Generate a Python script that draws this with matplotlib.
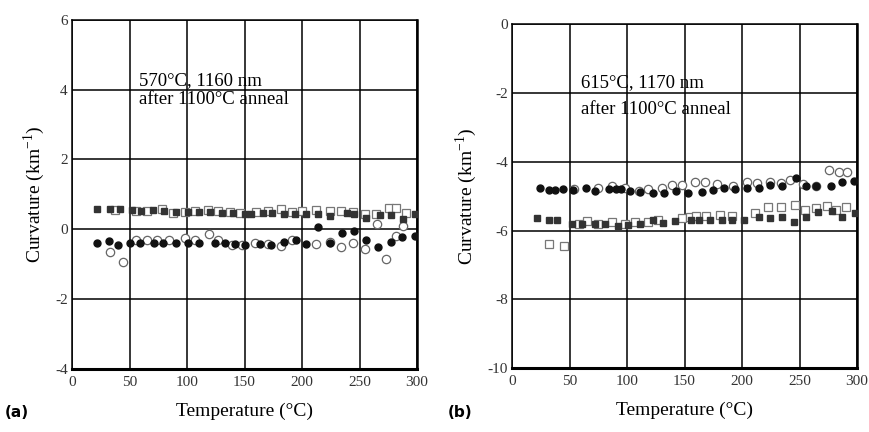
import matplotlib
matplotlib.use("Agg")
import matplotlib.pyplot as plt

plt.rcParams['font.family'] = ['Liberation Serif', 'DejaVu Serif']
plt.rcParams['axes.unicode_minus'] = False

# panel (a): 570°C, 1160 nm
a_fsq_x = [22, 33, 42, 52, 60, 70, 80, 90, 101, 110, 120, 130, 140, 150, 156, 166, 174, 184, 194, 203, 214, 224, 239, 245, 256, 268, 277, 288, 298]
a_fsq_y = [0.59, 0.58, 0.57, 0.54, 0.53, 0.54, 0.52, 0.49, 0.5, 0.5, 0.49, 0.48, 0.46, 0.43, 0.45, 0.46, 0.48, 0.44, 0.45, 0.45, 0.44, 0.38, 0.47, 0.45, 0.33, 0.40, 0.40, 0.30, 0.43]
a_osq_x = [37, 56, 65, 78, 88, 98, 107, 118, 127, 137, 146, 160, 170, 182, 191, 200, 212, 224, 234, 244, 255, 264, 276, 282, 290]
a_osq_y = [0.55, 0.53, 0.52, 0.57, 0.48, 0.5, 0.52, 0.55, 0.52, 0.5, 0.47, 0.5, 0.52, 0.58, 0.5, 0.52, 0.55, 0.53, 0.52, 0.5, 0.45, 0.45, 0.62, 0.62, 0.47]
a_fci_x = [22, 32, 40, 50, 59, 71, 79, 90, 101, 110, 124, 133, 142, 150, 163, 173, 184, 195, 203, 214, 224, 235, 245, 256, 266, 277, 287, 298]
a_fci_y = [-0.38, -0.33, -0.45, -0.4, -0.4, -0.4, -0.4, -0.4, -0.4, -0.4, -0.4, -0.4, -0.42, -0.45, -0.42, -0.45, -0.35, -0.32, -0.42, 0.07, -0.4, -0.12, -0.04, -0.3, -0.5, -0.35, -0.22, -0.18]
a_oci_x = [33, 44, 56, 65, 74, 84, 98, 107, 119, 127, 139, 148, 159, 170, 182, 191, 212, 224, 234, 244, 255, 265, 273, 282, 288]
a_oci_y = [-0.65, -0.95, -0.3, -0.3, -0.3, -0.32, -0.25, -0.3, -0.14, -0.3, -0.45, -0.45, -0.38, -0.42, -0.48, -0.3, -0.42, -0.35, -0.5, -0.4, -0.55, 0.15, -0.85, -0.2, 0.1]

# panel (b): 615°C, 1170 nm
b_fci_x = [24, 32, 37, 44, 53, 64, 72, 84, 90, 95, 103, 111, 123, 132, 143, 153, 165, 175, 184, 194, 204, 215, 224, 235, 247, 256, 264, 277, 287, 297]
b_fci_y = [-4.75, -4.82, -4.82, -4.8, -4.82, -4.75, -4.85, -4.8, -4.78, -4.8, -4.85, -4.87, -4.9, -4.92, -4.85, -4.92, -4.87, -4.82, -4.75, -4.8, -4.75, -4.75, -4.68, -4.7, -4.47, -4.72, -4.7, -4.72, -4.6, -4.55]
b_oci_x = [54, 75, 87, 98, 110, 118, 130, 139, 148, 159, 168, 178, 192, 204, 213, 224, 234, 242, 253, 264, 276, 284, 291]
b_oci_y = [-4.8, -4.75, -4.7, -4.75, -4.85, -4.8, -4.75, -4.68, -4.68, -4.6, -4.58, -4.65, -4.7, -4.6, -4.62, -4.6, -4.62, -4.52, -4.65, -4.7, -4.24, -4.29, -4.29]
b_fsq_x = [22, 32, 39, 52, 61, 72, 81, 92, 101, 111, 123, 131, 142, 156, 163, 172, 183, 191, 202, 215, 224, 235, 245, 256, 266, 278, 287, 298]
b_fsq_y = [-5.65, -5.7, -5.7, -5.8, -5.82, -5.82, -5.8, -5.88, -5.85, -5.8, -5.7, -5.78, -5.72, -5.7, -5.7, -5.7, -5.7, -5.7, -5.7, -5.6, -5.65, -5.6, -5.75, -5.6, -5.47, -5.44, -5.6, -5.5]
b_osq_x = [32, 45, 58, 65, 75, 87, 98, 107, 118, 127, 148, 155, 160, 169, 181, 191, 211, 223, 234, 246, 255, 264, 274, 282, 290]
b_osq_y = [-6.4, -6.45, -5.82, -5.72, -5.82, -5.75, -5.8, -5.75, -5.75, -5.7, -5.65, -5.6, -5.57, -5.57, -5.55, -5.57, -5.5, -5.33, -5.33, -5.25, -5.4, -5.35, -5.28, -5.4, -5.33]

fig = plt.figure(figsize=(8.7, 4.32), dpi=100)
ax1 = fig.add_axes([0.0828, 0.146, 0.3966, 0.808])
ax2 = fig.add_axes([0.5885, 0.148, 0.3966, 0.796])


def draw(ax, fsq, osq, fci, oci, ylim, yticks, lines, tpos):
    ax.plot(*osq, 's', ms=5.2, mfc='white', mec='#777777', mew=0.9, ls='none', zorder=3)
    ax.plot(*oci, 'o', ms=6, mfc='white', mec='#666666', mew=0.9, ls='none', zorder=3)
    ax.plot(*fsq, 's', ms=4.2, color='#333333', ls='none', zorder=4)
    ax.plot(*fci, 'o', ms=5, color='#111111', ls='none', zorder=4)
    ax.set_xlim(0, 300)
    ax.set_ylim(*ylim)
    ax.set_xticks([0, 50, 100, 150, 200, 250, 300])
    ax.set_yticks(yticks)
    ax.grid(True, color='black', linewidth=1.1)
    ax.set_axisbelow(True)
    ax.tick_params(length=0, labelsize=11, labelcolor='#333333')
    ax.tick_params(axis='y', pad=3)
    ax.tick_params(axis='x', pad=5)
    for s in ax.spines.values():
        s.set_linewidth(1.1)
    ax.spines['bottom'].set_linewidth(2.2)
    ax.spines['right'].set_linewidth(1.8)
    ax.set_ylabel('Curvature (km$^{\\mathregular{-1}}$)', fontsize=14, labelpad=6)
    ax.set_xlabel('Temperature (°C)', fontsize=14, labelpad=10)
    ax.text(tpos[0], tpos[1], lines[0], fontsize=13.5, va='center')
    ax.text(tpos[0], tpos[2], lines[1], fontsize=13.5, va='center')


draw(ax1, (a_fsq_x, a_fsq_y), (a_osq_x, a_osq_y), (a_fci_x, a_fci_y), (a_oci_x, a_oci_y),
     (-4, 6), [-4, -2, 0, 2, 4, 6], ['570°C, 1160 nm', 'after 1100°C anneal'], (58, 4.26, 3.71))
draw(ax2, (b_fsq_x, b_fsq_y), (b_osq_x, b_osq_y), (b_fci_x, b_fci_y), (b_oci_x, b_oci_y),
     (-10, 0), [-10, -8, -6, -4, -2, 0], ['615°C, 1170 nm', 'after 1100°C anneal'], (60, -1.71, -2.48))

fig.text(0.006, 0.035, '(a)', fontsize=11, fontweight='bold', family='DejaVu Sans')
fig.text(0.515, 0.035, '(b)', fontsize=11, fontweight='bold', family='DejaVu Sans')

fig.savefig('out.png', dpi=100)
